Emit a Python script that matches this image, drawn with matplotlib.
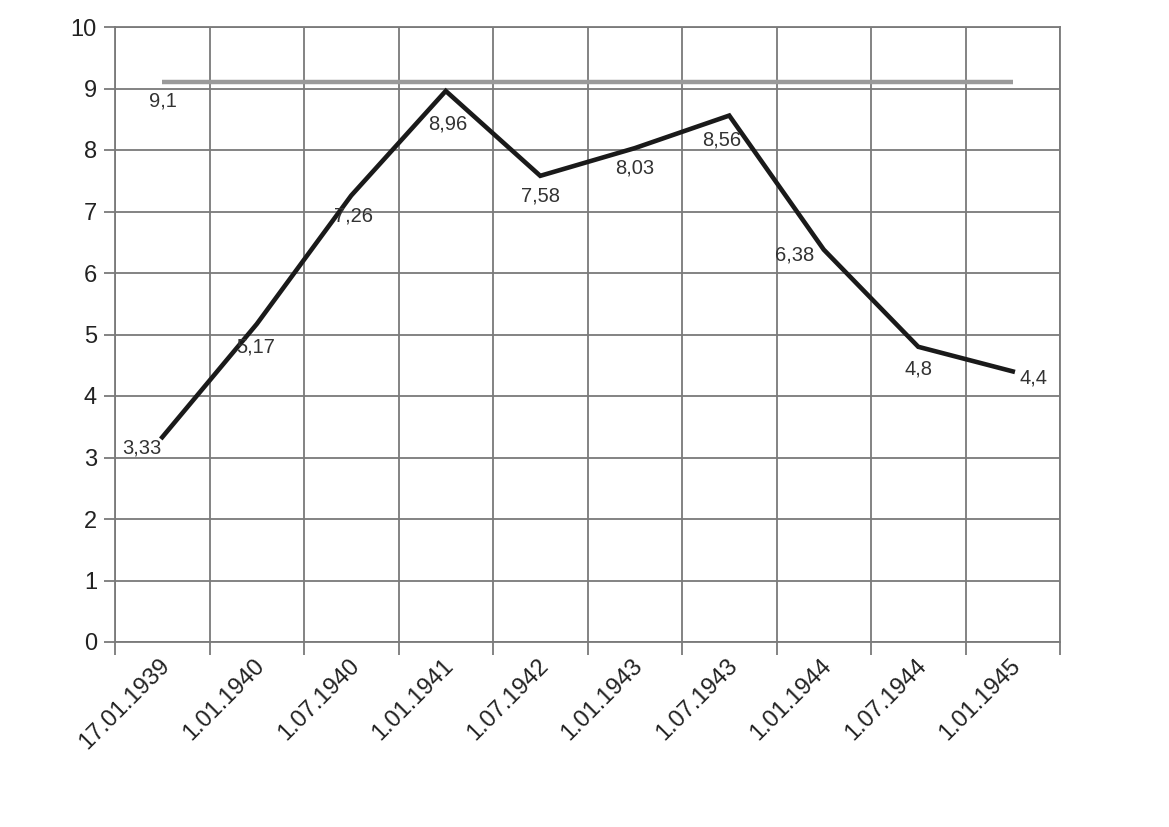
import matplotlib
matplotlib.use("Agg")
import matplotlib.pyplot as plt
import matplotlib.transforms as mtransforms
import numpy as np

categories = ["17.01.1939", "1.01.1940", "1.07.1940", "1.01.1941", "1.07.1942",
              "1.01.1943", "1.07.1943", "1.01.1944", "1.07.1944", "1.01.1945"]
values = [3.33, 5.17, 7.26, 8.96, 7.58, 8.03, 8.56, 6.38, 4.8, 4.4]
reference_level = [9.1] * len(categories)
value_labels = ["3,33", "5,17", "7,26", "8,96", "7,58", "8,03", "8,56", "6,38", "4,8", "4,4"]
reference_label = "9,1"

plt.rcParams['font.family'] = ['Liberation Sans', 'DejaVu Sans']

fig = plt.figure(figsize=(11.69, 8.27), dpi=100)
ax = fig.add_axes([115/1169, 1 - 642/827, (1060-115)/1169, (642-27)/827])

x = np.arange(len(categories))
ax.set_xlim(-0.5, len(categories) - 0.5)
ax.set_ylim(0, 10)

grid_c = '#7a7a7a'
ax.set_yticks(np.arange(0, 11, 1))
ax.yaxis.grid(True, color=grid_c, linewidth=1.3)
ax.set_xticks(np.arange(-0.5, len(categories), 1), minor=True)
ax.xaxis.grid(True, which='minor', color=grid_c, linewidth=1.3)
ax.set_axisbelow(True)

ax.plot(x, reference_level, color='#9a9a9a', linewidth=3.2, solid_capstyle='butt', zorder=3)
ax.plot(x, values, color='#1a1a1a', linewidth=3.3, solid_joinstyle='miter', zorder=4)

ax.set_xticks(x)
ax.set_xticklabels(categories, rotation=45, ha='right', va='top', rotation_mode='anchor', fontsize=17, color='#222222')
ax.tick_params(axis='x', which='major', length=0, pad=9)
ax.tick_params(axis='x', which='minor', length=9, width=1.3, color=grid_c)
ax.tick_params(axis='y', length=8, width=1.3, color=grid_c, labelsize=17, labelcolor='#222222', pad=5)
shift = mtransforms.ScaledTranslation(-0.03, 0, fig.dpi_scale_trans)
for lab in ax.get_xticklabels():
    lab.set_transform(lab.get_transform() + shift)

for s in ax.spines.values():
    s.set_color(grid_c)
    s.set_linewidth(1.3)

offsets = [(-20, -11), (-1, -23), (2, -20), (2, -33), (0, -20), (0, -20), (-8, -24), (-29, -5), (0, -22), (21, -7)]
for xi, v, lab, off in zip(x, values, value_labels, offsets):
    ax.annotate(lab, (xi, v), xytext=off, textcoords='offset pixels', ha='center', va='center',
                fontsize=14.5, color='#333333', zorder=5)
ax.annotate(reference_label, (x[0], reference_level[0]), xytext=(1, -19), textcoords='offset pixels',
            ha='center', va='center', fontsize=14.5, color='#333333', zorder=5)

fig.savefig("out.png", dpi=100, facecolor='white')
